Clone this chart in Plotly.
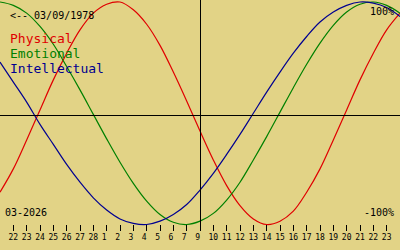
import plotly.graph_objects as go

# ---- data ----
day_index = list(range(31))          # day positions across the chart
series_names = ["Physical", "Emotional", "Intellectual"]
series_colors = ["#e00000", "#008000", "#000090"]

physical = [-71, -50, -24, 3, 30, 54, 75, 90, 98, 100, 93, 80, 61, 37, 11, -16,
            -42, -65, -83, -95, -100, -97, -88, -71, -50, -24, 3, 30, 54, 75, 90]
emotional = [100, 97, 90, 78, 62, 42, 21, -1, -23, -44, -63, -79, -91, -98, -100, -97,
             -90, -78, -62, -42, -21, 1, 23, 44, 63, 79, 91, 98, 100, 97, 90]
intellectual = [46, 28, 10, -10, -28, -46, -62, -76, -87, -95, -99, -100, -97, -91, -82, -69,
                -54, -37, -19, 0, 19, 37, 54, 69, 82, 91, 97, 100, 99, 95, 87]

tick_days = list(range(1, 30))
tick_labels = ["22", "23", "24", "25", "26", "27", "28", "1", "2", "3", "4", "5", "6", "7",
               "9", "10", "11", "12", "13", "14", "15", "16", "17", "18", "19", "20", "21",
               "22", "23"]
today_index = 15

birth_label = "<-- 03/09/1978"
month_label = "03-2026"
top_label = "100%"
bottom_label = "-100%"

# ---- layout constants ----
W, H = 400, 250
BOTTOM = 19
PLOT_H = H - BOTTOM
BG = "#e2d386"
MONO = "DejaVu Sans Mono"


def py(px):
    """pixel row inside the plot area -> paper coordinate"""
    return 1 - px / PLOT_H


fig = go.Figure()
for name, vals, col in zip(series_names, [physical, emotional, intellectual], series_colors):
    fig.add_trace(go.Scatter(x=day_index, y=vals, mode="lines", name=name,
                             line=dict(color=col, width=1.2, shape="spline"),
                             hoverinfo="skip", showlegend=False))

# reference lines
fig.add_shape(type="line", xref="paper", yref="paper", x0=0, x1=1, y0=0.5, y1=0.5,
              line=dict(color="black", width=1))
fig.add_shape(type="line", xref="x", yref="paper", x0=today_index + 0.0375, x1=today_index + 0.0375,
              y0=0, y1=1, line=dict(color="black", width=1))

ann = []
ann.append(dict(text=birth_label, x=8 / W, y=py(16), xanchor="left", yanchor="middle",
                font=dict(family=MONO, size=10, color="black")))
for i, (name, col) in enumerate(zip(series_names, series_colors)):
    ann.append(dict(text=name, x=8 / W, y=py(39 + i * 14.8), xanchor="left", yanchor="middle",
                    font=dict(family=MONO, size=13, color=col)))
ann.append(dict(text=top_label, x=396 / W, y=py(11.5), xanchor="right", yanchor="middle",
                font=dict(family=MONO, size=10, color="black")))
ann.append(dict(text=bottom_label, x=396 / W, y=py(212.5), xanchor="right", yanchor="middle",
                font=dict(family=MONO, size=10, color="black")))
ann.append(dict(text=month_label, x=3 / W, y=py(212), xanchor="left", yanchor="middle",
                font=dict(family=MONO, size=10, color="black")))
for a in ann:
    a.update(xref="paper", yref="paper", showarrow=False)

fig.update_layout(
    width=W, height=H,
    margin=dict(l=0, r=0, t=0, b=BOTTOM, pad=0),
    paper_bgcolor=BG, plot_bgcolor=BG,
    annotations=ann,
    xaxis=dict(range=[0, 30], showgrid=False, zeroline=False, showline=False,
               ticks="inside", ticklen=6, tickwidth=1, tickcolor="black",
               tickvals=tick_days,
               ticktext=[t if len(t) > 1 else t + "\u00a0" for t in tick_labels],
               tickfont=dict(family=MONO, size=8, color="black"), fixedrange=True),
    yaxis=dict(range=[-105.84, 101.8], visible=False, fixedrange=True),
)

fig.write_html("out.html", config={"displayModeBar": False, "staticPlot": True})
